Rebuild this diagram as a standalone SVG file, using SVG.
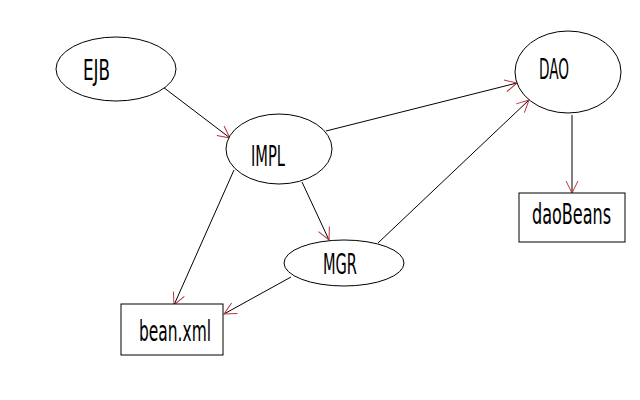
<svg xmlns="http://www.w3.org/2000/svg" width="640" height="400" viewBox="0 0 640 400">
<style>
.n{fill:#fff;stroke:#000;stroke-width:1}
.t{font-family:"DejaVu Sans Condensed","Liberation Sans Narrow","Liberation Sans",sans-serif;font-stretch:condensed;font-size:28px;fill:#000}
.e{stroke:#000;stroke-width:1;fill:none;marker-end:url(#a)}
</style>
<defs>
<marker id="a" markerUnits="userSpaceOnUse" orient="auto" markerWidth="30" markerHeight="30" refX="0" refY="0" viewBox="-15 -15 30 30" overflow="visible">
<path d="M-12,-6 L0,0 L-12,6" fill="none" stroke="#c03040" stroke-width="1"/>
</marker>
</defs>
<rect width="640" height="400" fill="#fff"/>
<g id="connectors">
<line class="e" x1="163" y1="87" x2="230" y2="138"/>
<line class="e" x1="326" y1="131" x2="517" y2="83"/>
<line class="e" x1="378" y1="243" x2="529" y2="100"/>
<line class="e" x1="572" y1="115" x2="572" y2="193"/>
<line class="e" x1="302" y1="182" x2="329" y2="240"/>
<line class="e" x1="234" y1="170" x2="174" y2="305"/>
<line class="e" x1="291" y1="277" x2="224" y2="314"/>
</g>
<g id="EJB"><ellipse class="n" cx="116" cy="69" rx="60" ry="32"/><text class="t" x="83" y="80" textLength="27" lengthAdjust="spacingAndGlyphs">EJB</text></g>
<g id="IMPL"><ellipse class="n" cx="279" cy="149" rx="53" ry="35"/><text class="t" x="251" y="166" textLength="34" lengthAdjust="spacingAndGlyphs">IMPL</text></g>
<g id="DAO"><ellipse class="n" cx="568" cy="72" rx="53" ry="41"/><text class="t" x="539" y="79" textLength="30" lengthAdjust="spacingAndGlyphs">DAO</text></g>
<g id="daoBeans"><rect class="n" x="519" y="193" width="106" height="49"/><text class="t" x="532" y="224" textLength="79" lengthAdjust="spacingAndGlyphs">daoBeans</text></g>
<g id="MGR"><ellipse class="n" cx="344" cy="263" rx="60" ry="23"/><text class="t" x="323" y="274" textLength="34" lengthAdjust="spacingAndGlyphs">MGR</text></g>
<g id="bean.xml"><rect class="n" x="121" y="304" width="102" height="51"/><text class="t" x="139" y="341" textLength="72" lengthAdjust="spacingAndGlyphs">bean.xml</text></g>
</svg>
